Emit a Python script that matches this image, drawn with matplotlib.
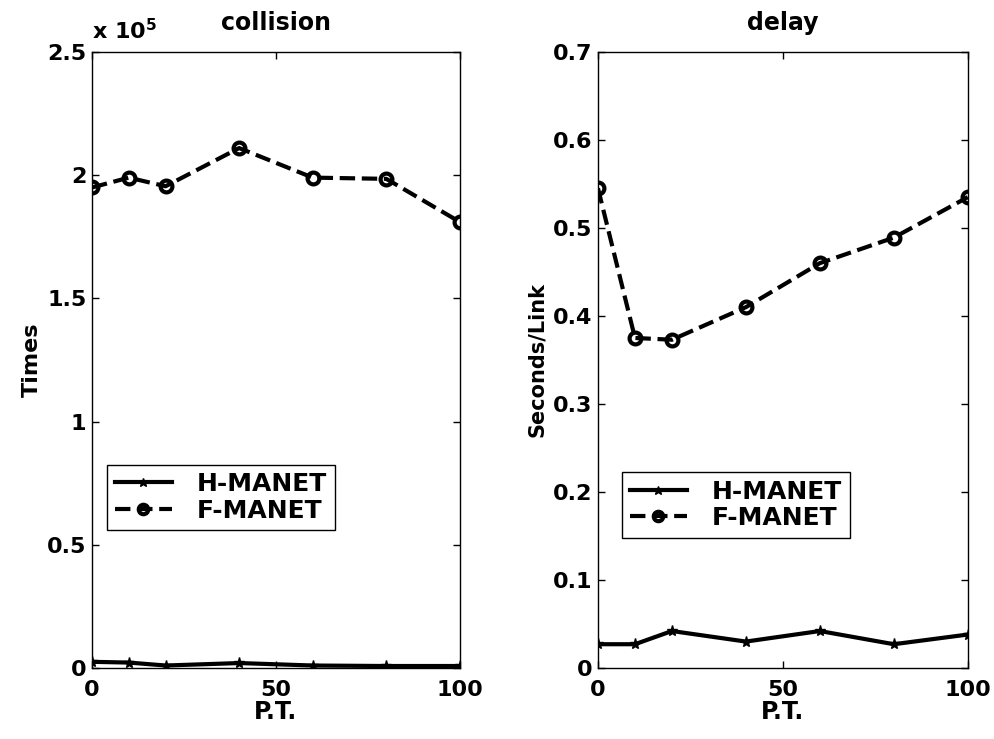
import matplotlib
matplotlib.use('Agg')
import matplotlib.pyplot as plt
from matplotlib.ticker import FuncFormatter

plt.rcParams['font.family'] = ['DejaVu Sans']
plt.rcParams['font.weight'] = 'bold'

# 数据
pt = [0, 10, 20, 40, 60, 80, 100]
coll_h = [2500, 2200, 1000, 2000, 1000, 800, 800]
coll_f = [195000, 199000, 195500, 211000, 199000, 198500, 181000]
delay_h = [0.027, 0.027, 0.042, 0.030, 0.042, 0.027, 0.038]
delay_f = [0.545, 0.375, 0.373, 0.410, 0.460, 0.489, 0.535]

fig = plt.figure(figsize=(9.94, 7.39), dpi=100)
ax1 = fig.add_axes([0.0926, 0.0961, 0.370, 0.8336])
ax2 = fig.add_axes([0.6016, 0.0961, 0.372, 0.8336])


def style(ax):
    ax.tick_params(direction='in', top=True, right=True, labelsize=16, length=5, width=1, pad=4)
    ax.tick_params(axis='x', pad=9)
    for s in ax.spines.values():
        s.set_linewidth(1.0)
    for lab in ax.get_xticklabels() + ax.get_yticklabels():
        lab.set_fontweight('bold')


def legend(ax, anchor):
    leg = ax.legend(loc='upper left', bbox_to_anchor=anchor, borderaxespad=0,
                    fontsize=18, fancybox=False, edgecolor='k', framealpha=1,
                    handlelength=2.3, handletextpad=1.0, borderpad=0.3,
                    labelspacing=0.1, markerscale=0.8)
    leg.get_frame().set_linewidth(1.0)


# collision
ax1.plot(pt, coll_h, 'k-*', lw=3, ms=8, label='H-MANET')
ax1.plot(pt, coll_f, 'k--o', lw=3, ms=8.5, mfc='none', mew=3, label='F-MANET')
ax1.set_xlim(0, 100)
ax1.set_ylim(0, 2.5e5)
ax1.set_xticks([0, 50, 100])
ax1.set_yticks([0, 0.5e5, 1e5, 1.5e5, 2e5, 2.5e5])
ax1.yaxis.set_major_formatter(FuncFormatter(lambda v, p: '%g' % (v / 1e5)))
ax1.set_title('collision', fontsize=17, fontweight='bold', pad=16)
ax1.set_ylabel('Times', fontsize=16, fontweight='bold', labelpad=4)
ax1.set_xlabel('P.T.', fontsize=17, fontweight='bold', labelpad=0)
ax1.text(0.0, 1.015, r'x 10$^{\mathbf{5}}$', transform=ax1.transAxes, fontsize=16,
         fontweight='bold', ha='left', va='bottom')
legend(ax1, (0.041, 0.33))
style(ax1)

# delay
ax2.plot(pt, delay_h, 'k-*', lw=3, ms=8, label='H-MANET')
ax2.plot(pt, delay_f, 'k--o', lw=3, ms=8.5, mfc='none', mew=3, label='F-MANET')
ax2.set_xlim(0, 100)
ax2.set_ylim(0, 0.7)
ax2.set_xticks([0, 50, 100])
ax2.set_yticks([0, 0.1, 0.2, 0.3, 0.4, 0.5, 0.6, 0.7])
ax2.yaxis.set_major_formatter(FuncFormatter(lambda v, p: '%g' % round(v, 1)))
ax2.set_title('delay', fontsize=17, fontweight='bold', pad=16)
ax2.set_ylabel('Seconds/Link', fontsize=15, fontweight='bold', labelpad=4)
ax2.set_xlabel('P.T.', fontsize=17, fontweight='bold', labelpad=0)
legend(ax2, (0.065, 0.318))
style(ax2)

fig.savefig('out.png', dpi=100)
